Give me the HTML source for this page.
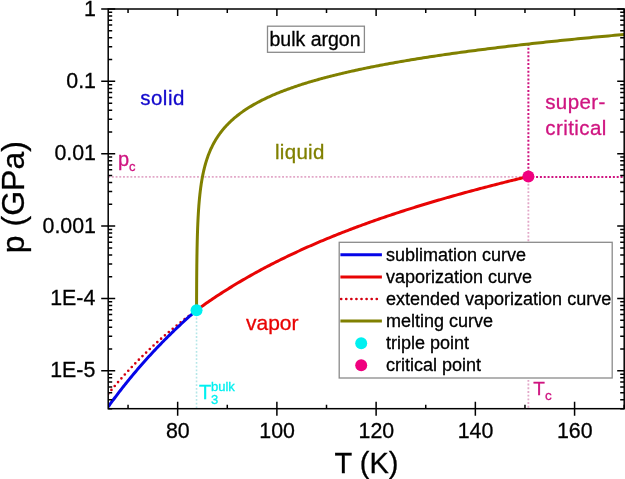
<!DOCTYPE html>
<html><head><meta charset="utf-8"><style>
html,body{margin:0;padding:0;background:#fff;width:625px;height:479px;overflow:hidden}
svg{display:block;will-change:transform}
text{stroke-width:0.3px}
</style></head><body>
<svg width="625" height="479" viewBox="0 0 625 479">
<defs><clipPath id="c"><rect x="108.20" y="9.00" width="516.00" height="399.69"/></clipPath></defs>
<g clip-path="url(#c)" fill="none">
<line x1="108.20" y1="176.90" x2="528.38" y2="176.90" stroke="#e2a8c8" stroke-width="1.8" stroke-dasharray="1.9,1.8"/>
<line x1="528.38" y1="176.40" x2="528.38" y2="408.69" stroke="#e2a8c8" stroke-width="1.8" stroke-dasharray="1.9,1.8"/>
<line x1="528.38" y1="176.90" x2="624.20" y2="176.90" stroke="#cf1580" stroke-width="2" stroke-dasharray="2,1.84"/>
<line x1="528.38" y1="176.40" x2="528.38" y2="44.01" stroke="#cf1580" stroke-width="2" stroke-dasharray="2,1.84"/>
<line x1="196.54" y1="310.19" x2="196.54" y2="408.69" stroke="#b4e6e8" stroke-width="1.6" stroke-dasharray="1.8,1.9"/>
<path d="M108.20,393.82 L109.30,392.47 L110.41,391.13 L111.51,389.80 L112.62,388.48 L113.72,387.17 L114.83,385.87 L115.93,384.57 L117.03,383.29 L118.14,382.02 L119.24,380.75 L120.35,379.50 L121.45,378.25 L122.56,377.01 L123.66,375.78 L124.76,374.56 L125.87,373.35 L126.97,372.15 L128.08,370.95 L129.18,369.77 L130.29,368.59 L131.39,367.42 L132.49,366.25 L133.60,365.10 L134.70,363.95 L135.81,362.81 L136.91,361.68 L138.02,360.56 L139.12,359.44 L140.22,358.33 L141.33,357.23 L142.43,356.14 L143.54,355.05 L144.64,353.97 L145.75,352.90 L146.85,351.83 L147.95,350.77 L149.06,349.72 L150.16,348.68 L151.27,347.64 L152.37,346.61 L153.48,345.58 L154.58,344.56 L155.68,343.55 L156.79,342.55 L157.89,341.55 L159.00,340.56 L160.10,339.57 L161.21,338.59 L162.31,337.62 L163.42,336.65 L164.52,335.69 L165.62,334.73 L166.73,333.78 L167.83,332.84 L168.94,331.90 L170.04,330.97 L171.15,330.04 L172.25,329.12 L173.35,328.20 L174.46,327.29 L175.56,326.39 L176.67,325.49 L177.77,324.60 L178.88,323.71 L179.98,322.83 L181.08,321.95 L182.19,321.08 L183.29,320.21 L184.40,319.35 L185.50,318.49 L186.61,317.64 L187.71,316.79 L188.81,315.95 L189.92,315.11 L191.02,314.28 L192.13,313.45 L193.23,312.63 L194.34,311.81 L195.44,311.00 L196.54,310.19" stroke="#d40010" stroke-width="2.7" stroke-linecap="round" stroke-dasharray="0,5.1"/>
<path d="M108.20,406.79 L109.30,405.26 L110.41,403.74 L111.51,402.23 L112.62,400.73 L113.72,399.25 L114.83,397.77 L115.93,396.30 L117.03,394.84 L118.14,393.39 L119.24,391.95 L120.35,390.52 L121.45,389.10 L122.56,387.69 L123.66,386.29 L124.76,384.90 L125.87,383.51 L126.97,382.13 L128.08,380.77 L129.18,379.41 L130.29,378.06 L131.39,376.72 L132.49,375.39 L133.60,374.06 L134.70,372.74 L135.81,371.44 L136.91,370.14 L138.02,368.84 L139.12,367.56 L140.22,366.28 L141.33,365.02 L142.43,363.76 L143.54,362.50 L144.64,361.26 L145.75,360.02 L146.85,358.79 L147.95,357.57 L149.06,356.35 L150.16,355.14 L151.27,353.94 L152.37,352.75 L153.48,351.56 L154.58,350.38 L155.68,349.21 L156.79,348.04 L157.89,346.88 L159.00,345.73 L160.10,344.59 L161.21,343.45 L162.31,342.31 L163.42,341.19 L164.52,340.07 L165.62,338.96 L166.73,337.85 L167.83,336.75 L168.94,335.65 L170.04,334.57 L171.15,333.49 L172.25,332.41 L173.35,331.34 L174.46,330.28 L175.56,329.22 L176.67,328.17 L177.77,327.12 L178.88,326.08 L179.98,325.05 L181.08,324.02 L182.19,323.00 L183.29,321.98 L184.40,320.97 L185.50,319.96 L186.61,318.96 L187.71,317.96 L188.81,316.97 L189.92,315.99 L191.02,315.01 L192.13,314.04 L193.23,313.07 L194.34,312.10 L195.44,311.15 L196.54,310.19" stroke="#0505e8" stroke-width="3"/>
<path d="M196.54,310.19 L198.20,308.99 L199.86,307.79 L201.52,306.60 L203.18,305.43 L204.84,304.26 L206.50,303.10 L208.16,301.96 L209.82,300.82 L211.48,299.69 L213.14,298.57 L214.80,297.46 L216.45,296.36 L218.11,295.27 L219.77,294.19 L221.43,293.12 L223.09,292.05 L224.75,290.99 L226.41,289.94 L228.07,288.90 L229.73,287.87 L231.39,286.85 L233.05,285.83 L234.71,284.82 L236.36,283.82 L238.02,282.83 L239.68,281.84 L241.34,280.87 L243.00,279.90 L244.66,278.93 L246.32,277.98 L247.98,277.03 L249.64,276.09 L251.30,275.15 L252.96,274.22 L254.62,273.30 L256.27,272.39 L257.93,271.48 L259.59,270.58 L261.25,269.68 L262.91,268.79 L264.57,267.91 L266.23,267.04 L267.89,266.17 L269.55,265.30 L271.21,264.45 L272.87,263.60 L274.53,262.75 L276.18,261.91 L277.84,261.08 L279.50,260.25 L281.16,259.43 L282.82,258.61 L284.48,257.80 L286.14,256.99 L287.80,256.19 L289.46,255.40 L291.12,254.61 L292.78,253.82 L294.44,253.04 L296.09,252.27 L297.75,251.50 L299.41,250.74 L301.07,249.98 L302.73,249.22 L304.39,248.47 L306.05,247.73 L307.71,246.99 L309.37,246.25 L311.03,245.52 L312.69,244.80 L314.35,244.07 L316.00,243.36 L317.66,242.64 L319.32,241.94 L320.98,241.23 L322.64,240.53 L324.30,239.84 L325.96,239.15 L327.62,238.46 L329.28,237.78 L330.94,237.10 L332.60,236.42 L334.26,235.75 L335.91,235.09 L337.57,234.42 L339.23,233.77 L340.89,233.11 L342.55,232.46 L344.21,231.81 L345.87,231.17 L347.53,230.53 L349.19,229.89 L350.85,229.26 L352.51,228.63 L354.17,228.00 L355.82,227.38 L357.48,226.76 L359.14,226.15 L360.80,225.54 L362.46,224.93 L364.12,224.32 L365.78,223.72 L367.44,223.12 L369.10,222.53 L370.76,221.93 L372.42,221.35 L374.08,220.76 L375.73,220.18 L377.39,219.60 L379.05,219.02 L380.71,218.45 L382.37,217.88 L384.03,217.31 L385.69,216.74 L387.35,216.18 L389.01,215.62 L390.67,215.07 L392.33,214.51 L393.99,213.96 L395.64,213.42 L397.30,212.87 L398.96,212.33 L400.62,211.79 L402.28,211.25 L403.94,210.72 L405.60,210.18 L407.26,209.66 L408.92,209.13 L410.58,208.60 L412.24,208.08 L413.90,207.56 L415.55,207.05 L417.21,206.53 L418.87,206.02 L420.53,205.51 L422.19,205.00 L423.85,204.50 L425.51,204.00 L427.17,203.50 L428.83,203.00 L430.49,202.50 L432.15,202.01 L433.81,201.52 L435.46,201.03 L437.12,200.54 L438.78,200.06 L440.44,199.57 L442.10,199.09 L443.76,198.61 L445.42,198.14 L447.08,197.66 L448.74,197.19 L450.40,196.72 L452.06,196.25 L453.72,195.78 L455.37,195.32 L457.03,194.86 L458.69,194.40 L460.35,193.94 L462.01,193.48 L463.67,193.02 L465.33,192.57 L466.99,192.12 L468.65,191.67 L470.31,191.22 L471.97,190.77 L473.63,190.33 L475.28,189.88 L476.94,189.44 L478.60,189.00 L480.26,188.56 L481.92,188.13 L483.58,187.69 L485.24,187.26 L486.90,186.83 L488.56,186.39 L490.22,185.96 L491.88,185.54 L493.54,185.11 L495.19,184.68 L496.85,184.26 L498.51,183.84 L500.17,183.42 L501.83,183.00 L503.49,182.58 L505.15,182.16 L506.81,181.74 L508.47,181.33 L510.13,180.91 L511.79,180.50 L513.45,180.09 L515.10,179.68 L516.76,179.26 L518.42,178.85 L520.08,178.45 L521.74,178.04 L523.40,177.63 L525.06,177.22 L526.72,176.81 L528.38,176.40" stroke="#e80404" stroke-width="3"/>
<path d="M196.54,310.19 L196.54,310.19 L196.54,310.17 L196.54,310.13 L196.54,310.04 L196.55,309.89 L196.55,309.67 L196.55,309.36 L196.55,308.96 L196.55,308.46 L196.55,307.83 L196.55,307.09 L196.56,306.22 L196.56,305.22 L196.56,304.10 L196.57,302.85 L196.57,301.48 L196.58,300.00 L196.58,298.41 L196.59,296.73 L196.60,294.96 L196.61,293.11 L196.62,291.20 L196.63,289.23 L196.64,287.21 L196.65,285.15 L196.66,283.07 L196.68,280.96 L196.69,278.84 L196.71,276.71 L196.73,274.58 L196.74,272.45 L196.76,270.33 L196.79,268.22 L196.81,266.12 L196.83,264.04 L196.86,261.97 L196.89,259.93 L196.91,257.90 L196.94,255.90 L196.98,253.93 L197.01,251.98 L197.04,250.05 L197.08,248.15 L197.12,246.27 L197.16,244.42 L197.20,242.60 L197.24,240.80 L197.29,239.02 L197.34,237.27 L197.39,235.55 L197.44,233.85 L197.49,232.18 L197.55,230.52 L197.60,228.90 L197.66,227.29 L197.73,225.71 L197.79,224.15 L197.86,222.61 L197.93,221.10 L198.00,219.60 L198.07,218.13 L198.15,216.67 L198.23,215.24 L198.31,213.82 L198.39,212.42 L198.48,211.04 L198.57,209.68 L198.66,208.34 L198.76,207.01 L198.85,205.70 L198.95,204.41 L199.06,203.14 L199.16,201.87 L199.27,200.63 L199.38,199.40 L199.50,198.18 L199.62,196.98 L199.74,195.80 L199.86,194.62 L199.99,193.46 L200.12,192.32 L200.26,191.18 L200.39,190.06 L200.53,188.95 L200.68,187.86 L200.83,186.77 L200.98,185.70 L201.13,184.64 L201.29,183.59 L201.45,182.55 L201.62,181.52 L201.79,180.50 L201.96,179.50 L202.14,178.50 L202.32,177.51 L202.50,176.54 L202.69,175.57 L202.88,174.61 L203.08,173.66 L203.28,172.72 L203.48,171.79 L203.69,170.86 L203.90,169.95 L204.12,169.04 L204.34,168.15 L204.56,167.26 L204.79,166.38 L205.03,165.50 L205.26,164.64 L205.51,163.78 L205.75,162.93 L206.00,162.08 L206.26,161.25 L206.52,160.42 L206.78,159.59 L207.05,158.78 L207.33,157.97 L207.61,157.16 L207.89,156.37 L208.18,155.58 L208.47,154.79 L208.77,154.02 L209.07,153.24 L209.38,152.48 L209.69,151.72 L210.01,150.96 L210.33,150.22 L210.66,149.47 L211.00,148.74 L211.34,148.00 L211.68,147.28 L212.03,146.56 L212.38,145.84 L212.74,145.13 L213.11,144.42 L213.48,143.72 L213.86,143.02 L214.24,142.33 L214.63,141.65 L215.02,140.96 L215.42,140.29 L215.82,139.61 L216.23,138.94 L216.65,138.28 L217.07,137.62 L217.50,136.96 L217.93,136.31 L218.37,135.67 L218.81,135.02 L219.27,134.38 L219.72,133.75 L220.19,133.12 L220.66,132.49 L221.13,131.87 L221.62,131.25 L222.10,130.63 L222.60,130.02 L223.10,129.41 L223.61,128.81 L224.12,128.20 L224.64,127.61 L225.17,127.01 L225.70,126.42 L226.24,125.83 L226.79,125.25 L227.34,124.67 L227.90,124.09 L228.47,123.51 L229.04,122.94 L229.62,122.37 L230.21,121.81 L230.80,121.25 L231.40,120.69 L232.01,120.13 L232.63,119.58 L233.25,119.03 L233.88,118.48 L234.51,117.93 L235.16,117.39 L235.81,116.85 L236.47,116.32 L237.13,115.78 L237.80,115.25 L238.48,114.72 L239.17,114.20 L239.87,113.67 L240.57,113.15 L241.28,112.63 L242.00,112.12 L242.72,111.60 L243.46,111.09 L244.20,110.59 L244.94,110.08 L245.70,109.58 L246.46,109.07 L247.24,108.57 L248.02,108.08 L248.80,107.58 L249.60,107.09 L250.40,106.60 L251.22,106.11 L252.04,105.63 L252.86,105.14 L253.70,104.66 L254.55,104.18 L255.40,103.70 L256.26,103.23 L257.13,102.75 L258.01,102.28 L258.89,101.81 L259.79,101.35 L260.69,100.88 L261.60,100.42 L262.52,99.95 L263.45,99.49 L264.39,99.04 L265.34,98.58 L266.29,98.12 L267.26,97.67 L268.23,97.22 L269.21,96.77 L270.20,96.32 L271.20,95.88 L272.21,95.44 L273.23,94.99 L274.26,94.55 L275.29,94.11 L276.34,93.68 L277.39,93.24 L278.46,92.81 L279.53,92.37 L280.61,91.94 L281.71,91.51 L282.81,91.09 L283.92,90.66 L285.04,90.24 L286.17,89.81 L287.31,89.39 L288.46,88.97 L289.61,88.55 L290.78,88.14 L291.96,87.72 L293.15,87.31 L294.35,86.89 L295.55,86.48 L296.77,86.07 L298.00,85.66 L299.23,85.25 L300.48,84.85 L301.74,84.44 L303.01,84.04 L304.28,83.64 L305.57,83.24 L306.87,82.84 L308.18,82.44 L309.50,82.04 L310.83,81.65 L312.16,81.25 L313.51,80.86 L314.87,80.47 L316.25,80.08 L317.63,79.69 L319.02,79.30 L320.42,78.91 L321.83,78.53 L323.26,78.14 L324.69,77.76 L326.14,77.37 L327.59,76.99 L329.06,76.61 L330.54,76.23 L332.03,75.86 L333.53,75.48 L335.04,75.10 L336.56,74.73 L338.09,74.35 L339.64,73.98 L341.19,73.61 L342.76,73.24 L344.34,72.87 L345.92,72.50 L347.53,72.13 L349.14,71.77 L350.76,71.40 L352.40,71.04 L354.04,70.67 L355.70,70.31 L357.37,69.95 L359.05,69.59 L360.74,69.23 L362.45,68.87 L364.16,68.51 L365.89,68.15 L367.63,67.80 L369.38,67.44 L371.15,67.09 L372.92,66.74 L374.71,66.38 L376.51,66.03 L378.32,65.68 L380.15,65.33 L381.98,64.98 L383.83,64.63 L385.69,64.29 L387.56,63.94 L389.45,63.60 L391.35,63.25 L393.25,62.91 L395.18,62.56 L397.11,62.22 L399.06,61.88 L401.02,61.54 L402.99,61.20 L404.98,60.86 L406.97,60.52 L408.98,60.19 L411.01,59.85 L413.04,59.51 L415.09,59.18 L417.15,58.84 L419.23,58.51 L421.32,58.18 L423.42,57.85 L425.53,57.51 L427.66,57.18 L429.80,56.85 L431.95,56.53 L434.12,56.20 L436.30,55.87 L438.49,55.54 L440.70,55.22 L442.92,54.89 L445.15,54.57 L447.39,54.24 L449.65,53.92 L451.93,53.60 L454.22,53.27 L456.52,52.95 L458.83,52.63 L461.16,52.31 L463.50,51.99 L465.86,51.67 L468.22,51.35 L470.61,51.04 L473.00,50.72 L475.42,50.40 L477.84,50.09 L480.28,49.77 L482.73,49.46 L485.20,49.15 L487.68,48.83 L490.18,48.52 L492.69,48.21 L495.21,47.90 L497.75,47.59 L500.30,47.28 L502.87,46.97 L505.45,46.66 L508.04,46.35 L510.66,46.04 L513.28,45.73 L515.92,45.43 L518.57,45.12 L521.24,44.82 L523.93,44.51 L526.62,44.21 L529.34,43.90 L532.06,43.60 L534.81,43.30 L537.56,43.00 L540.34,42.69 L543.12,42.39 L545.93,42.09 L548.75,41.79 L551.58,41.49 L554.43,41.19 L557.29,40.90 L560.17,40.60 L563.06,40.30 L565.97,40.01 L568.89,39.71 L571.83,39.41 L574.79,39.12 L577.76,38.82 L580.74,38.53 L583.75,38.24 L586.76,37.94 L589.80,37.65 L592.84,37.36 L595.91,37.07 L598.99,36.78 L602.08,36.48 L605.20,36.19 L608.32,35.91 L611.47,35.62 L614.63,35.33 L617.80,35.04 L620.99,34.75 L624.20,34.46" stroke="#808000" stroke-width="3"/>
</g>
<circle cx="196.54" cy="310.19" r="6" fill="#00f0f0"/>
<circle cx="528.38" cy="176.40" r="6" fill="#f0007f"/>
<g stroke="#000" stroke-width="1.5" fill="none">
<rect x="108.20" y="9.00" width="516.00" height="399.69"/>
<path d="M128.05,408.69v-4 M128.05,9.00v4 M177.66,401.69v14 M177.66,9.00v7 M227.28,408.69v-4 M227.28,9.00v4 M276.89,401.69v14 M276.89,9.00v7 M326.51,408.69v-4 M326.51,9.00v4 M376.12,401.69v14 M376.12,9.00v7 M425.74,408.69v-4 M425.74,9.00v4 M475.35,401.69v14 M475.35,9.00v7 M524.97,408.69v-4 M524.97,9.00v4 M574.58,401.69v14 M574.58,9.00v7 M624.20,408.69v-4 M624.20,9.00v4 M108.20,408.69h4 M624.20,408.69h-4 M108.20,399.65h4 M624.20,399.65h-4 M108.20,392.64h4 M624.20,392.64h-4 M108.20,386.91h4 M624.20,386.91h-4 M108.20,382.06h4 M624.20,382.06h-4 M108.20,377.86h4 M624.20,377.86h-4 M108.20,374.16h4 M624.20,374.16h-4 M101.20,370.85h14 M624.20,370.85h-7 M108.20,349.06h4 M624.20,349.06h-4 M108.20,336.32h4 M624.20,336.32h-4 M108.20,327.28h4 M624.20,327.28h-4 M108.20,320.27h4 M624.20,320.27h-4 M108.20,314.54h4 M624.20,314.54h-4 M108.20,309.69h4 M624.20,309.69h-4 M108.20,305.49h4 M624.20,305.49h-4 M108.20,301.79h4 M624.20,301.79h-4 M101.20,298.48h14 M624.20,298.48h-7 M108.20,276.69h4 M624.20,276.69h-4 M108.20,263.95h4 M624.20,263.95h-4 M108.20,254.91h4 M624.20,254.91h-4 M108.20,247.90h4 M624.20,247.90h-4 M108.20,242.17h4 M624.20,242.17h-4 M108.20,237.32h4 M624.20,237.32h-4 M108.20,233.12h4 M624.20,233.12h-4 M108.20,229.42h4 M624.20,229.42h-4 M101.20,226.11h14 M624.20,226.11h-7 M108.20,204.32h4 M624.20,204.32h-4 M108.20,191.58h4 M624.20,191.58h-4 M108.20,182.54h4 M624.20,182.54h-4 M108.20,175.53h4 M624.20,175.53h-4 M108.20,169.80h4 M624.20,169.80h-4 M108.20,164.95h4 M624.20,164.95h-4 M108.20,160.75h4 M624.20,160.75h-4 M108.20,157.05h4 M624.20,157.05h-4 M101.20,153.74h14 M624.20,153.74h-7 M108.20,131.95h4 M624.20,131.95h-4 M108.20,119.21h4 M624.20,119.21h-4 M108.20,110.17h4 M624.20,110.17h-4 M108.20,103.16h4 M624.20,103.16h-4 M108.20,97.43h4 M624.20,97.43h-4 M108.20,92.58h4 M624.20,92.58h-4 M108.20,88.38h4 M624.20,88.38h-4 M108.20,84.68h4 M624.20,84.68h-4 M101.20,81.37h14 M624.20,81.37h-7 M108.20,59.58h4 M624.20,59.58h-4 M108.20,46.84h4 M624.20,46.84h-4 M108.20,37.80h4 M624.20,37.80h-4 M108.20,30.79h4 M624.20,30.79h-4 M108.20,25.06h4 M624.20,25.06h-4 M108.20,20.21h4 M624.20,20.21h-4 M108.20,16.01h4 M624.20,16.01h-4 M108.20,12.31h4 M624.20,12.31h-4 M101.20,9.00h14 M624.20,9.00h-7"/>
</g>
<g font-family='"Liberation Sans", sans-serif' font-size="22.2" fill="#000">
<text transform="translate(177.86,437.7) scale(0.963,1)" text-anchor="middle" stroke="#000">80</text>
<text transform="translate(277.09,437.7) scale(0.963,1)" text-anchor="middle" stroke="#000">100</text>
<text transform="translate(376.32,437.7) scale(0.963,1)" text-anchor="middle" stroke="#000">120</text>
<text transform="translate(475.55,437.7) scale(0.963,1)" text-anchor="middle" stroke="#000">140</text>
<text transform="translate(574.78,437.7) scale(0.963,1)" text-anchor="middle" stroke="#000">160</text>
<text transform="translate(96.00,15.60) scale(0.963,1)" text-anchor="end" stroke="#000">1</text>
<text transform="translate(96.00,87.97) scale(0.963,1)" text-anchor="end" stroke="#000">0.1</text>
<text transform="translate(96.00,160.34) scale(0.963,1)" text-anchor="end" stroke="#000">0.01</text>
<text transform="translate(96.00,232.71) scale(0.963,1)" text-anchor="end" stroke="#000">0.001</text>
<text transform="translate(95.30,305.08) scale(0.963,1)" text-anchor="end" stroke="#000">1E-4</text>
<text transform="translate(95.30,377.45) scale(0.963,1)" text-anchor="end" stroke="#000">1E-5</text>
</g>
<text x="334.6" y="472.5" font-family='"Liberation Sans", sans-serif' font-size="29" stroke="#000">T (K)</text>
<text transform="translate(23.6,253.2) rotate(-90)" font-family='"Liberation Sans", sans-serif' font-size="32" stroke="#000">p (GPa)</text>
<g font-family='"Liberation Sans", sans-serif'>
<rect x="267.5" y="26.2" width="96.9" height="26.1" fill="none" stroke="#8a8a8a" stroke-width="1.3"/>
<text x="269.5" y="45.9" font-size="19.5" stroke="#000">bulk argon</text>
<text x="140.2" y="105.1" font-size="20.5" letter-spacing="0.5" fill="#1208cc" stroke="#1208cc">solid</text>
<text x="275.0" y="158.5" font-size="20.5" letter-spacing="0.3" fill="#808000" stroke="#808000">liquid</text>
<text x="545.2" y="108.8" font-size="20.5" letter-spacing="0.43" fill="#cf1580" stroke="#cf1580">super-</text>
<text x="545.3" y="135.4" font-size="20.5" letter-spacing="0.43" fill="#cf1580" stroke="#cf1580">critical</text>
<text x="246" y="330.4" font-size="21" fill="#e80404" stroke="#e80404">vapor</text>
<text x="117.9" y="165.7" font-size="20" fill="#cf1580" stroke="#cf1580">p<tspan font-size="13" dy="4.9">c</tspan></text>
<text x="533.2" y="395.0" font-size="19" fill="#cf1580" stroke="#cf1580">T<tspan font-size="13.5" dx="0.2" dy="5.3">c</tspan></text>
<text x="199" y="398.6" font-size="20" fill="#00f0f0" stroke="#00f0f0">T</text>
<text x="211" y="390.6" font-size="13" fill="#00f0f0" stroke="#00f0f0">bulk</text>
<text x="211" y="403.6" font-size="13" fill="#00f0f0" stroke="#00f0f0">3</text>
</g>
<rect x="339.20" y="242.30" width="273.00" height="135.70" fill="#fff" stroke="#8a8a8a" stroke-width="1.3"/>
<line x1="340.4" y1="254.70" x2="381.9" y2="254.70" stroke="#0505e8" stroke-width="3"/>
<text x="386" y="260.50" font-family='"Liberation Sans", sans-serif' font-size="18" stroke="#000">sublimation curve</text>
<line x1="340.4" y1="276.90" x2="381.9" y2="276.90" stroke="#e80404" stroke-width="3"/>
<text x="386" y="282.52" font-family='"Liberation Sans", sans-serif' font-size="18" stroke="#000">vaporization curve</text>
<line x1="341.2" y1="299.00" x2="377.2" y2="299.00" stroke="#d40010" stroke-width="2.7" stroke-linecap="round" stroke-dasharray="0,5.08"/>
<text x="386" y="304.54" font-family='"Liberation Sans", sans-serif' font-size="18" stroke="#000">extended vaporization curve</text>
<line x1="340.4" y1="321.10" x2="381.9" y2="321.10" stroke="#808000" stroke-width="3"/>
<text x="386" y="326.56" font-family='"Liberation Sans", sans-serif' font-size="18" stroke="#000">melting curve</text>
<circle cx="361.2" cy="343.20" r="6" fill="#00f0f0"/>
<text x="386" y="348.58" font-family='"Liberation Sans", sans-serif' font-size="18" stroke="#000">triple point</text>
<circle cx="361.2" cy="365.30" r="6" fill="#f0007f"/>
<text x="386" y="370.60" font-family='"Liberation Sans", sans-serif' font-size="18" stroke="#000">critical point</text>
</svg>
</body></html>
